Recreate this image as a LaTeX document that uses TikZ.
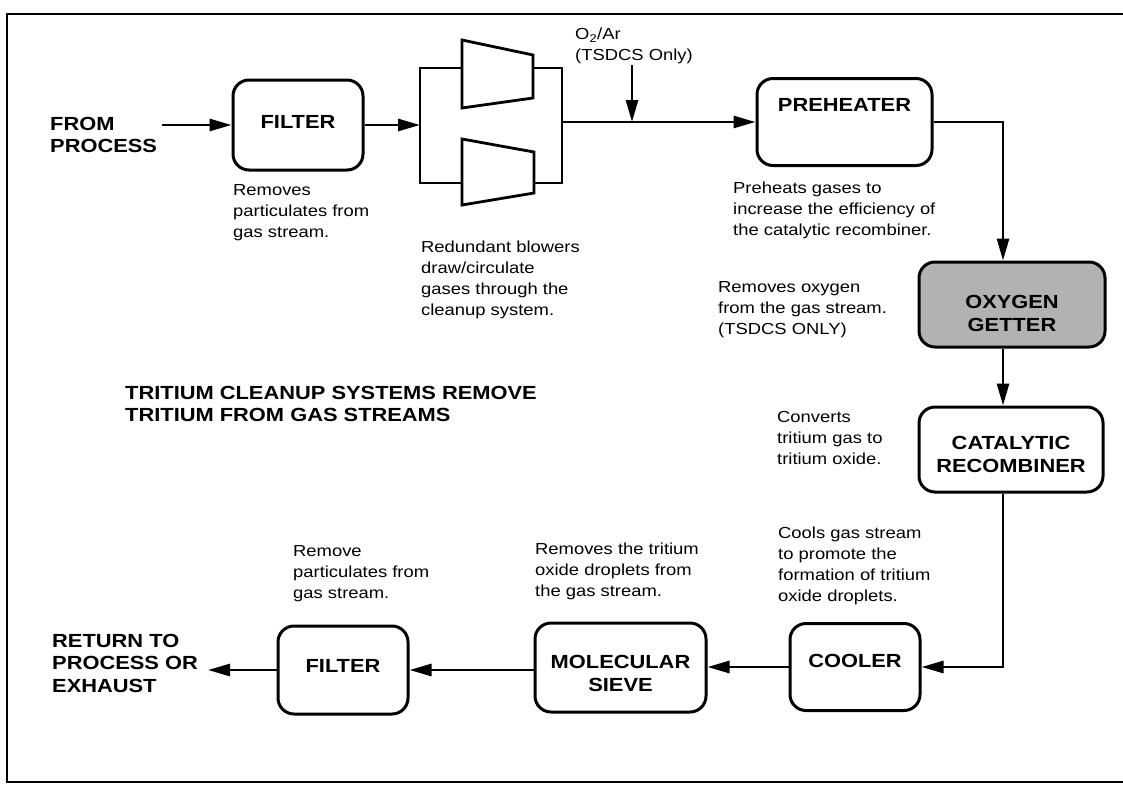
\documentclass[tikz,border=0pt]{standalone}
\usepackage{fontspec}
\setmainfont{Liberation Sans}[FakeStretch=1.15]
\usetikzlibrary{arrows.meta,calc}
\begin{document}
\begin{tikzpicture}[x=1pt,y=-1pt,
  box/.style={draw, line width=3pt, rounded corners=16pt, inner sep=0pt},
  lbl/.style={font=\fontsize{19}{22.5}\selectfont\bfseries, align=center, inner sep=0pt},
  note/.style={font=\fontsize{16}{21}\selectfont, align=left, anchor=west, inner sep=0pt},
  head/.style={font=\fontsize{19}{22.5}\selectfont\bfseries, align=left, anchor=west, inner sep=0pt},
  flow/.style={line width=2.8pt, -{Triangle[length=22pt,width=12pt]}},
  ln/.style={line width=2.8pt},
]
\useasboundingbox (0,0) rectangle (1123,784);
% frame
\draw[line width=2.8pt] (1123,14) -- (7,14) -- (7,782) -- (1123,782);

% boxes
\node[box, minimum width=130pt, minimum height=90pt, label={[lbl,yshift=3pt]center:FILTER}] (f1) at (298,125) {};
\node[box, minimum width=175pt, minimum height=87pt, label={[lbl,yshift=17.5pt]center:PREHEATER}] (pre) at (844.5,122) {};
\node[box, fill=black!30, minimum width=186pt, minimum height=85pt, label={[lbl,yshift=-9pt]center:{OXYGEN\\GETTER}}] (oxy) at (1012,304.5) {};
\node[box, minimum width=184pt, minimum height=85pt, label={[lbl,yshift=-5pt]center:{CATALYTIC\\RECOMBINER}}] (cat) at (1011,449.5) {};
\node[box, minimum width=130pt, minimum height=87pt, label={[lbl,yshift=6.5pt]center:COOLER}] (cool) at (855,667) {};
\node[box, minimum width=171pt, minimum height=89pt, label={[lbl,yshift=-6pt]center:{MOLECULAR\\SIEVE}}] (mol) at (620.5,667.5) {};
\node[box, minimum width=130pt, minimum height=88pt, label={[lbl,yshift=4pt]center:FILTER}] (f2) at (343,670) {};

% redundant blowers
\draw[ln] (462,68) -- (420,68) -- (420,183) -- (462,183);
\draw[ln] (533,68) -- (562,68) -- (562,183) -- (534,183);
\draw[ln] (462,40) -- (533,55) -- (533,98) -- (462,108) -- cycle;
\draw[ln] (462,139) -- (534,152) -- (534,193) -- (462,205) -- cycle;
\coordinate (bin) at (420,125);
\coordinate (bout) at (562,122);

% connectors
\coordinate (fp) at (162,125);
\coordinate (o2t) at (632,65);
\coordinate (o2j) at (632,122);
\coordinate (vx) at (1003,0);
\coordinate (ret) at (208,670);
\draw[flow] (fp) -- (f1.west);
\draw[flow] (f1.east) -- (bin);
\draw[flow] (bout) -- (pre.west);
\draw[flow] (o2t) -- (o2j);
\draw[flow] (pre.east) -| (vx |- oxy.north);
\draw[flow] (vx |- oxy.south) -- (vx |- cat.north);
\draw[flow] (vx |- cat.south) |- (cool.east);
\draw[flow] (cool.west) -- (cool.west -| mol.east);
\draw[flow] (mol.west |- f2.east) -- (f2.east);
\draw[flow] (f2.west) -- (ret);

% texts
\node[head] (tfrom) at (50,135) {FROM\\PROCESS};
\node[head] (tret) at (52,663) {RETURN TO\\PROCESS OR\\EXHAUST};
\node[head] (thead) at (125,404) {TRITIUM CLEANUP SYSTEMS REMOVE\\TRITIUM FROM GAS STREAMS};
\node[note] (tf1) at (233,213) {Removes\\particulates from\\gas stream.};
\node[note] (tbl) at (421,280) {Redundant blowers\\draw/circulate\\gases through the\\cleanup system.};
\node[note] (to2) at (575,46) {O\textsubscript{2}/Ar\\(TSDCS Only)};
\node[note] (tpre) at (733,210) {Preheats gases to\\increase the efficiency of\\the catalytic recombiner.};
\node[note] (toxy) at (718,310) {Removes oxygen\\from the gas stream.\\(TSDCS ONLY)};
\node[note] (tcat) at (777,438) {Converts\\tritium gas to\\tritium oxide.};
\node[note] (tcool) at (778,566) {Cools gas stream\\to promote the\\formation of tritium\\oxide droplets.};
\node[note] (tmol) at (535,571) {Removes the tritium\\oxide droplets from\\the gas stream.};
\node[note] (tf2) at (293,574) {Remove\\particulates from\\gas stream.};
\end{tikzpicture}
\end{document}
